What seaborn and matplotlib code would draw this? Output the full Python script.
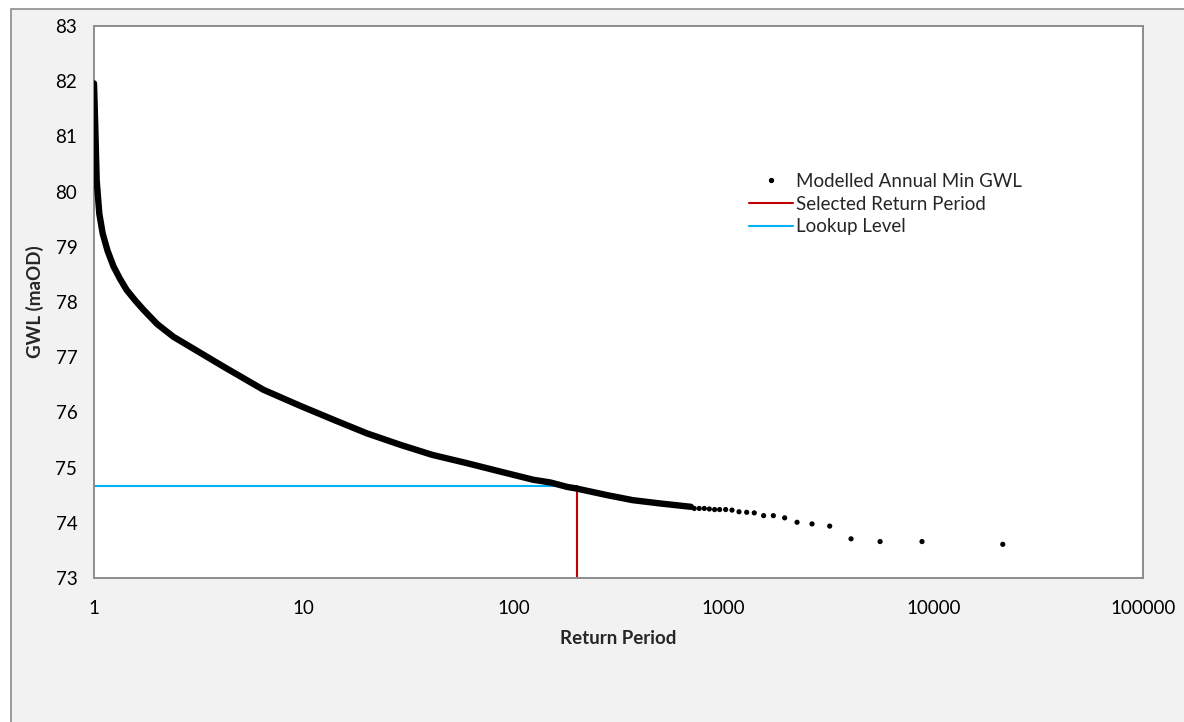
import numpy as np
import pandas as pd
import matplotlib
matplotlib.use("Agg")
import matplotlib.pyplot as plt
from matplotlib.ticker import MultipleLocator, LogLocator, FixedLocator, NullFormatter
from matplotlib.lines import Line2D
from matplotlib.patches import Rectangle
import seaborn as sns

# ---- data ----
# dense part of the modelled annual minimum GWL curve (return period, GWL)
dense_rp = [1.0, 1.01, 1.02, 1.03, 1.06, 1.1, 1.16, 1.24, 1.33, 1.43, 1.57,
            1.72, 2.0, 2.39, 4.14, 6.42, 9.6, 14, 20, 29, 41, 60, 86, 124,
            150, 180, 200, 280, 370, 500, 700]
dense_gwl = [81.96, 81.4, 80.8, 80.2, 79.6, 79.24, 78.93, 78.64, 78.42, 78.22,
             78.03, 77.86, 77.6, 77.37, 76.83, 76.41, 76.12, 75.86, 75.62,
             75.41, 75.23, 75.08, 74.93, 74.78, 74.73, 74.65, 74.62, 74.50,
             74.41, 74.35, 74.29]
# sparse tail points
tail_rp = [726, 767, 811, 857, 908, 959, 1025, 1099, 1187, 1291, 1403, 1555,
           1730, 1959, 2244, 2645, 3211, 4059, 5582, 8844, 21460]
tail_gwl = [74.26, 74.26, 74.26, 74.25, 74.24, 74.24, 74.24, 74.23, 74.20,
            74.19, 74.18, 74.13, 74.13, 74.09, 74.01, 73.98, 73.94, 73.71,
            73.66, 73.66, 73.61]
selected_rp = 200
lookup_level = 74.67
y_min, y_max = 73, 83
x_min, x_max = 1, 100000
x_ticks = [1, 10, 100, 1000, 10000, 100000]
x_ticklabels = ["1", "10", "100", "1000", "10000", "100000"]
labels = ["Modelled Annual Min GWL", "Selected Return Period", "Lookup Level"]

sns.set_style("white")
plt.rcParams["font.family"] = ["Lato", "DejaVu Sans"]
FS = 13.5

W, H = 1184, 722
fig = plt.figure(figsize=(W / 100, H / 100), dpi=100, facecolor="white")
# outer chart area
fig.patches.append(Rectangle((11 / W, -0.2), 1.3, (1 - 9 / H) + 0.2,
                             transform=fig.transFigure, facecolor="#f2f2f2",
                             edgecolor="#8c8c8c", linewidth=1.2, zorder=-10))

ax = fig.add_axes([94 / W, 1 - 578 / H, (1143 - 94) / W, (578 - 26) / H])
ax.set_facecolor("white")

red_df = pd.DataFrame({"x": [selected_rp, selected_rp], "y": [y_min, lookup_level]})
blue_df = pd.DataFrame({"x": [x_min, selected_rp], "y": [lookup_level, lookup_level]})
dense_df = pd.DataFrame({"x": dense_rp, "y": dense_gwl})
tail_df = pd.DataFrame({"x": tail_rp, "y": tail_gwl})

sns.lineplot(data=blue_df, x="x", y="y", ax=ax, color="#00b0f0", linewidth=1.5,
             estimator=None, sort=False, zorder=2)
sns.lineplot(data=red_df, x="x", y="y", ax=ax, color="#c00000", linewidth=1.5,
             estimator=None, sort=False, zorder=2)
sns.lineplot(data=dense_df, x="x", y="y", ax=ax, color="black", linewidth=4.6,
             estimator=None, sort=False, zorder=3, solid_capstyle="round",
             solid_joinstyle="round")
sns.scatterplot(data=tail_df, x="x", y="y", ax=ax, color="black", s=14,
                edgecolor="none", zorder=4)

ax.set_xscale("log")
ax.set_xlim(x_min, x_max)
ax.set_ylim(y_min, y_max)
ax.xaxis.set_major_locator(FixedLocator(x_ticks))
ax.set_xticklabels(x_ticklabels)
ax.xaxis.set_minor_locator(LogLocator(base=10, subs=np.arange(2, 10)))
ax.xaxis.set_minor_formatter(NullFormatter())
ax.yaxis.set_major_locator(MultipleLocator(1))
ax.yaxis.set_minor_locator(MultipleLocator(0.2))

grey = "#8c8c8c"
for sp in ax.spines.values():
    sp.set_color(grey)
    sp.set_linewidth(1.4)
    sp.set_visible(True)
ax.tick_params(axis="both", which="major", direction="out", length=5,
               width=1.2, color=grey, labelsize=FS, labelcolor="black", pad=7)
ax.tick_params(axis="both", which="minor", direction="in", length=3.5,
               width=1.0, color=grey)
ax.tick_params(axis="x", which="major", pad=11)

ax.set_xlabel("Return Period", fontsize=FS, fontweight="bold", labelpad=9.5)
ax.set_ylabel("GWL (maOD)", fontsize=FS, fontweight="bold", labelpad=8)

handles = [
    Line2D([], [], marker="o", linestyle="none", color="black", markersize=2.8),
    Line2D([], [], color="#c00000", linewidth=1.5),
    Line2D([], [], color="#00b0f0", linewidth=1.5),
]
ax.legend(handles, labels, loc="upper left", bbox_to_anchor=(0.624, 0.734),
          frameon=False, fontsize=FS, handlelength=2.35, handletextpad=0.2,
          labelspacing=0.31, borderpad=0, borderaxespad=0)

fig.savefig("out.png", dpi=100, facecolor=fig.get_facecolor())
